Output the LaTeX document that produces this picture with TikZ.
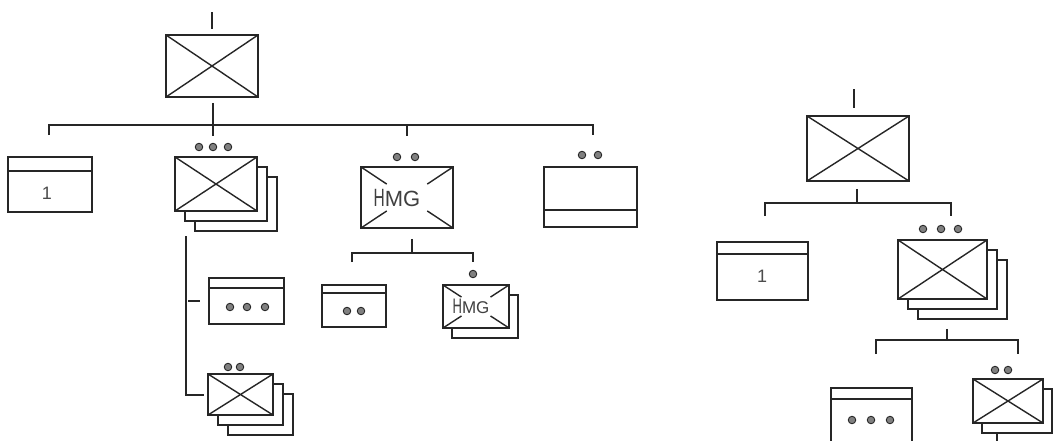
\documentclass[tikz,border=0pt]{standalone}
\usepackage{fontspec}
\newfontfamily\armyfont{Liberation Sans}
\usepackage{tikz}
\usetikzlibrary{positioning, calc, shadows}

\colorlet{ink}{black!85}

\begin{document}
\begin{tikzpicture}[x=1pt, y=-1pt,
    unit_box/.style={rectangle, draw=ink, line width=1.8pt, fill=white, inner sep=0pt},
    inf_x/.style={unit_box, path picture={
        \draw[ink, line width=1.4pt] (path picture bounding box.north west) -- (path picture bounding box.south east)
              (path picture bounding box.south west) -- (path picture bounding box.north east);}},
    hmg_x/.style={unit_box, font=\armyfont, text=black!75, path picture={
        \foreach \p/\q in {north west/south east, south east/north west, south west/north east, north east/south west}
          \draw[ink, line width=1.4pt] (path picture bounding box.\p) -- ($(path picture bounding box.\p)!0.28!(path picture bounding box.\q)$);}},
    bar_top/.style={path picture={\draw[ink, line width=1.3pt] ([yshift=-#1]path picture bounding box.north west) -- ([yshift=-#1]path picture bounding box.north east);}},
    bar_bot/.style={path picture={\draw[ink, line width=1.3pt] ([yshift=#1]path picture bounding box.south west) -- ([yshift=#1]path picture bounding box.south east);}},
    stack_one/.style={copy shadow={shadow xshift=9pt, shadow yshift=-10pt, draw=ink, fill=white, line width=1.4pt}},
    stack_two/.style={copy shadow={shadow xshift=20pt, shadow yshift=-20pt, draw=ink, fill=white, line width=1.4pt},
                      copy shadow={shadow xshift=10pt, shadow yshift=-10pt, draw=ink, fill=white, line width=1.4pt}},
    pip_dot/.style={circle, draw=ink, fill=black!50, line width=0.9pt, inner sep=0pt, minimum size=7.5pt},
    unit_num/.style={font=\armyfont, text=black!70, inner sep=0pt},
    org_line/.style={draw=ink, line width=2pt},
    ]
    \useasboundingbox (0,0) rectangle (1056,440);

    % Left tree
    \coordinate (tickL) at (212,12);
    \node[inf_x, minimum width=92pt, minimum height=62pt] (hq1) at (212,66) {};
    \node[unit_box, bar_top=14pt, minimum width=84pt, minimum height=55pt] (c1) at (50,184.5) {};
    \node[unit_num] (c1n) at (47,193) {\fontsize{18}{18}\selectfont 1};
    \node[inf_x, stack_two, minimum width=82pt, minimum height=54pt] (c2) at (216,184) {};
    \node[hmg_x, minimum width=92pt, minimum height=61pt] (c3) at (407,197.5)
        {\scalebox{0.62}[1]{\fontsize{25}{25}\selectfont H}\fontsize{22}{22}\selectfont MG\hspace*{20pt}};
    \node[unit_box, bar_bot=17pt, minimum width=93pt, minimum height=60pt] (c4) at (590.5,197) {};
    \foreach \n/\x in {1/199,2/213,3/228} \node[pip_dot] (c2p\n) at (\x,147) {};
    \foreach \n/\x in {1/397,2/415} \node[pip_dot] (c3p\n) at (\x,157) {};
    \foreach \n/\x in {1/582,2/598} \node[pip_dot] (c4p\n) at (\x,155) {};

    % under the companies
    \node[unit_box, bar_top=10pt, minimum width=75pt, minimum height=46pt] (s2a) at (246.5,301) {};
    \node[inf_x, stack_two, minimum width=65pt, minimum height=41pt] (s2b) at (240.5,394.5) {};
    \foreach \n/\x in {1/230,2/247,3/265} \node[pip_dot] (s2ap\n) at (\x,307) {};
    \foreach \n/\x in {1/228,2/240} \node[pip_dot] (s2bp\n) at (\x,367) {};
    \node[unit_box, bar_top=8pt, minimum width=64pt, minimum height=42pt] (c3a) at (354,306) {};
    \node[hmg_x, stack_one, minimum width=66pt, minimum height=43pt] (c3b) at (476,306.5)
        {\scalebox{0.62}[1]{\fontsize{21}{21}\selectfont H}\fontsize{17}{17}\selectfont MG\hspace*{10pt}};
    \foreach \n/\x in {1/347,2/361} \node[pip_dot] (c3ap\n) at (\x,311) {};
    \node[pip_dot] (c3bp1) at (473,274) {};

    % Lines
    \coordinate (bus1) at (213,125);
    \coordinate (sub2) at (186,236);
    \coordinate (bus3) at (412,253);
    \draw[org_line] (tickL) -- ($(hq1.north)+(0,-5)$);
    \draw[org_line] ($(hq1.south)+(1,5)$) -- (bus1) -- ++(0,11);
    \draw[org_line] ($(c1.north)+(-1,-21)$) |- (bus1) -| ($(c4.north)+(2.5,-31)$);
    \draw[org_line] (bus1 -| c3) -- ++(0,11);
    \draw[org_line] (sub2) |- ($(s2b.west)+(-3,0)$);
    \draw[org_line] ($(sub2 |- s2a)+(2,0)$) -- ++(12,0);
    \draw[org_line] ($(c3.south)+(5,10)$) -- (bus3);
    \draw[org_line] ($(c3a.north)+(-2,-22)$) |- (bus3) -| ($(c3b.north)+(-3,-22)$);

    % Right tree
    \coordinate (tickR) at (854,89);
    \node[inf_x, minimum width=102pt, minimum height=65pt] (hq2) at (858,148.5) {};
    \node[unit_box, bar_top=12pt, minimum width=91pt, minimum height=58pt] (r1) at (762.5,271) {};
    \node[unit_num] (r1n) at (762,276) {\fontsize{18}{18}\selectfont 1};
    \node[inf_x, stack_two, minimum width=89pt, minimum height=59pt] (r2) at (942.5,269.5) {};
    \node[unit_box, bar_top=11pt, minimum width=81pt, minimum height=54pt] (r2a) at (871.5,415) {};
    \node[inf_x, stack_one, minimum width=70pt, minimum height=44pt] (r2b) at (1008,401) {};
    \foreach \n/\x in {1/923,2/941,3/958} \node[pip_dot] (r2p\n) at (\x,229) {};
    \foreach \n/\x in {1/852,2/871,3/890} \node[pip_dot] (r2ap\n) at (\x,420) {};
    \foreach \n/\x in {1/995,2/1008} \node[pip_dot] (r2bp\n) at (\x,370) {};

    \coordinate (bus2) at (857,203);
    \coordinate (bus4) at (947,340);
    \coordinate (tickB) at (997,432);
    \draw[org_line] (tickR) -- ($(hq2.north)+(-4,-7)$);
    \draw[org_line] ($(hq2.south)+(-1,7)$) -- (bus2);
    \draw[org_line] ($(r1.north)+(2.5,-25)$) |- (bus2) -| ($(r2.north)+(8.5,-23)$);
    \draw[org_line] ($(r2.south)+(4.5,29)$) -- (bus4);
    \draw[org_line] ($(r2a.north)+(4.5,-33)$) |- (bus4) -| ($(r2b.north)+(10,-24)$);
    \draw[org_line] (tickB) -- ++(0,12);
\end{tikzpicture}
\end{document}
